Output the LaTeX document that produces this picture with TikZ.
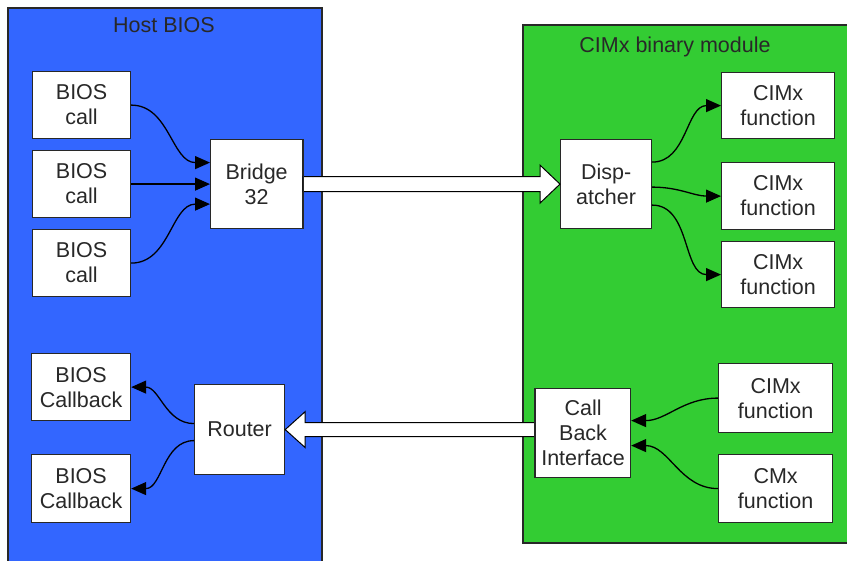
\documentclass[tikz,border=0pt]{standalone}
\usepackage{fontspec}
\setmainfont{Liberation Sans}
\usetikzlibrary{calc,arrows.meta}
\definecolor{hostblue}{RGB}{51,102,255}
\definecolor{cimgreen}{RGB}{51,204,51}
\definecolor{inkc}{RGB}{40,40,40}
\begin{document}
\begin{tikzpicture}[x=1pt,y=-1pt,font=\fontsize{21.5}{25}\selectfont,
  panel/.style={draw=inkc,line width=1.2pt},
  box/.style={draw=inkc,fill=white,line width=1.2pt,align=center,inner sep=0pt,anchor=north west,text=inkc},
  title/.style={anchor=base,text=inkc,inner sep=0pt},
  conn/.style={-{Triangle[length=15pt,width=13pt]},line width=1.3pt,black},
  bigarrow/.style={draw=black,fill=white,line width=1pt,line join=miter}]
\useasboundingbox (0,0) rectangle (847,561);
\fill[white] (0,0) rectangle (847,561);
% panels
\draw[panel,fill=hostblue] (8,8) rectangle (322,570);
\draw[panel,fill=cimgreen] (523,25) rectangle (855,543);
\node[title] (hosttitle) at (164,33) {Host BIOS};
\node[title] (cimtitle) at (675,53) {CIMx binary module};
% host boxes
\node[box,minimum width=98pt,minimum height=67pt] (bc1) at (32,71) {BIOS\\call};
\node[box,minimum width=98pt,minimum height=67pt] (bc2) at (32,150) {BIOS\\call};
\node[box,minimum width=98pt,minimum height=67pt] (bc3) at (32,229) {BIOS\\call};
\node[box,minimum width=92pt,minimum height=89pt] (br) at (210,139) {Bridge\\32};
\node[box,minimum width=99pt,minimum height=67pt] (cb1) at (31,353) {BIOS\\Callback};
\node[box,minimum width=99pt,minimum height=68pt] (cb2) at (31,454) {BIOS\\Callback};
\node[box,minimum width=90pt,minimum height=90pt] (rt) at (194,384) {Router};
% CIMx boxes
\node[box,minimum width=91pt,minimum height=89pt] (disp) at (560,139) {Disp-\\atcher};
\node[box,minimum width=113pt,minimum height=66pt] (f1) at (721,72) {CIMx\\function};
\node[box,minimum width=113pt,minimum height=67pt] (f2) at (721,162) {CIMx\\function};
\node[box,minimum width=113pt,minimum height=66pt] (f3) at (721,241) {CIMx\\function};
\node[box,minimum width=95pt,minimum height=89pt] (cbi) at (535,388) {Call\\Back\\Interface};
\node[box,minimum width=114pt,minimum height=69pt] (f4) at (718,363) {CIMx\\function};
\node[box,minimum width=114pt,minimum height=68pt] (f5) at (718,454) {CMx\\function};
% curved connectors
\draw[conn] (bc1.east) to[out=0,in=180] ($(br.west)+(0,-21.5)$);
\draw[conn] (bc2.east) to[out=0,in=180] (br.west);
\draw[conn] (bc3.east) to[out=0,in=180] ($(br.west)+(0,20)$);
\draw[conn] ($(disp.east)+(0,-22)$) to[out=0,in=180] (f1.west);
\draw[conn] ($(disp.east)+(0,3)$) to[out=0,in=180] (f2.west);
\draw[conn] ($(disp.east)+(0,21)$) to[out=0,in=180] (f3.west);
\draw[conn] ($(rt.west)+(0,-6)$) to[out=180,in=0] (cb1.east);
\draw[conn] ($(rt.west)+(0,11)$) to[out=180,in=0] (cb2.east);
\draw[conn] (f4.west) to[out=180,in=0] ($(cbi.east)+(0,-12.5)$);
\draw[conn] (f5.west) to[out=180,in=0] ($(cbi.east)+(0,12.5)$);
% big arrows
\coordinate (fwdtail) at (br.east);
\coordinate (fwdtip) at (disp.west);
\draw[bigarrow] ($(fwdtail)+(0,-7.5)$) -- ($(fwdtip)+(-20,-7.5)$) -- ($(fwdtip)+(-20,-19)$) -- (fwdtip)
  -- ($(fwdtip)+(-20,19)$) -- ($(fwdtip)+(-20,7.5)$) -- ($(fwdtail)+(0,7.5)$) -- cycle;
\coordinate (backtip) at (rt.east);
\coordinate (backtail) at (rt.east -| cbi.west);
\draw[bigarrow] ($(backtail)+(0,-7)$) -- ($(backtip)+(20,-7)$) -- ($(backtip)+(20,-18)$) -- (backtip)
  -- ($(backtip)+(20,18)$) -- ($(backtip)+(20,7)$) -- ($(backtail)+(0,7)$) -- cycle;
% redraw box borders over arrow tails
\draw[inkc,line width=1.2pt] (br.north east) -- (br.south east);
\draw[inkc,line width=1.2pt] (cbi.north west) -- (cbi.south west);
\end{tikzpicture}
\end{document}
